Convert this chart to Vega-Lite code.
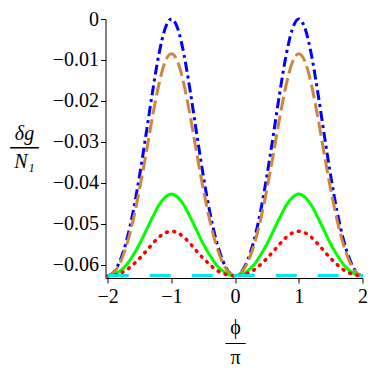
{
  "$schema": "https://vega.github.io/schema/vega-lite/v6.json",
  "width": 257,
  "height": 259,
  "autosize": "none",
  "padding": {"left": 105.5, "top": 19, "right": 11.5, "bottom": 96},
  "background": "white",
  "config": {
    "view": {"stroke": null},
    "axis": {
      "grid": false,
      "domainColor": "black",
      "tickColor": "black",
      "labelColor": "black",
      "titleColor": "black",
      "labelFontSize": 20,
      "titleFontSize": 20,
      "titleFontWeight": "normal",
      "domainWidth": 1,
      "tickWidth": 1
    }
  },
  "datasets": {
    "blue": [
      {"x": -2, "y": -0.0627}, {"x": -1.9, "y": -0.0617}, {"x": -1.8, "y": -0.0587}, {"x": -1.7, "y": -0.0538}, {"x": -1.6, "y": -0.0469}, {"x": -1.5, "y": -0.0382}, {"x": -1.4, "y": -0.0283}, {"x": -1.3, "y": -0.0181}, {"x": -1.2, "y": -0.0089}, {"x": -1.1, "y": -0.0024}, {"x": -1, "y": 0},
      {"x": -0.9, "y": -0.0024}, {"x": -0.8, "y": -0.0089}, {"x": -0.7, "y": -0.0181}, {"x": -0.6, "y": -0.0283}, {"x": -0.5, "y": -0.0382}, {"x": -0.4, "y": -0.0469}, {"x": -0.3, "y": -0.0538}, {"x": -0.2, "y": -0.0587}, {"x": -0.1, "y": -0.0617}, {"x": 0, "y": -0.0627},
      {"x": 0.1, "y": -0.0617}, {"x": 0.2, "y": -0.0587}, {"x": 0.3, "y": -0.0538}, {"x": 0.4, "y": -0.0469}, {"x": 0.5, "y": -0.0382}, {"x": 0.6, "y": -0.0283}, {"x": 0.7, "y": -0.0181}, {"x": 0.8, "y": -0.0089}, {"x": 0.9, "y": -0.0024}, {"x": 1, "y": 0},
      {"x": 1.1, "y": -0.0024}, {"x": 1.2, "y": -0.0089}, {"x": 1.3, "y": -0.0181}, {"x": 1.4, "y": -0.0283}, {"x": 1.5, "y": -0.0382}, {"x": 1.6, "y": -0.0469}, {"x": 1.7, "y": -0.0538}, {"x": 1.8, "y": -0.0587}, {"x": 1.9, "y": -0.0617}, {"x": 2, "y": -0.0627}
    ],
    "brown": [
      {"x": -2, "y": -0.0627}, {"x": -1.9, "y": -0.0618}, {"x": -1.8, "y": -0.0593}, {"x": -1.7, "y": -0.055}, {"x": -1.6, "y": -0.049}, {"x": -1.5, "y": -0.0415}, {"x": -1.4, "y": -0.033}, {"x": -1.3, "y": -0.0241}, {"x": -1.2, "y": -0.0162}, {"x": -1.1, "y": -0.0105}, {"x": -1, "y": -0.0085},
      {"x": -0.9, "y": -0.0105}, {"x": -0.8, "y": -0.0162}, {"x": -0.7, "y": -0.0241}, {"x": -0.6, "y": -0.033}, {"x": -0.5, "y": -0.0415}, {"x": -0.4, "y": -0.049}, {"x": -0.3, "y": -0.055}, {"x": -0.2, "y": -0.0593}, {"x": -0.1, "y": -0.0618}, {"x": 0, "y": -0.0627},
      {"x": 0.1, "y": -0.0618}, {"x": 0.2, "y": -0.0593}, {"x": 0.3, "y": -0.055}, {"x": 0.4, "y": -0.049}, {"x": 0.5, "y": -0.0415}, {"x": 0.6, "y": -0.033}, {"x": 0.7, "y": -0.0241}, {"x": 0.8, "y": -0.0162}, {"x": 0.9, "y": -0.0105}, {"x": 1, "y": -0.0085},
      {"x": 1.1, "y": -0.0105}, {"x": 1.2, "y": -0.0162}, {"x": 1.3, "y": -0.0241}, {"x": 1.4, "y": -0.033}, {"x": 1.5, "y": -0.0415}, {"x": 1.6, "y": -0.049}, {"x": 1.7, "y": -0.055}, {"x": 1.8, "y": -0.0593}, {"x": 1.9, "y": -0.0618}, {"x": 2, "y": -0.0627}
    ],
    "green": [
      {"x": -2, "y": -0.0627}, {"x": -1.9, "y": -0.0624}, {"x": -1.8, "y": -0.0614}, {"x": -1.7, "y": -0.0599}, {"x": -1.6, "y": -0.0576}, {"x": -1.5, "y": -0.0549}, {"x": -1.4, "y": -0.0517}, {"x": -1.3, "y": -0.0485}, {"x": -1.2, "y": -0.0455}, {"x": -1.1, "y": -0.0435}, {"x": -1, "y": -0.0427},
      {"x": -0.9, "y": -0.0435}, {"x": -0.8, "y": -0.0455}, {"x": -0.7, "y": -0.0485}, {"x": -0.6, "y": -0.0517}, {"x": -0.5, "y": -0.0549}, {"x": -0.4, "y": -0.0576}, {"x": -0.3, "y": -0.0599}, {"x": -0.2, "y": -0.0614}, {"x": -0.1, "y": -0.0624}, {"x": 0, "y": -0.0627},
      {"x": 0.1, "y": -0.0624}, {"x": 0.2, "y": -0.0614}, {"x": 0.3, "y": -0.0599}, {"x": 0.4, "y": -0.0576}, {"x": 0.5, "y": -0.0549}, {"x": 0.6, "y": -0.0517}, {"x": 0.7, "y": -0.0485}, {"x": 0.8, "y": -0.0455}, {"x": 0.9, "y": -0.0435}, {"x": 1, "y": -0.0427},
      {"x": 1.1, "y": -0.0435}, {"x": 1.2, "y": -0.0455}, {"x": 1.3, "y": -0.0485}, {"x": 1.4, "y": -0.0517}, {"x": 1.5, "y": -0.0549}, {"x": 1.6, "y": -0.0576}, {"x": 1.7, "y": -0.0599}, {"x": 1.8, "y": -0.0614}, {"x": 1.9, "y": -0.0624}, {"x": 2, "y": -0.0627}
    ],
    "red": [
      {"x": -2, "y": -0.0627}, {"x": -1.9, "y": -0.0625}, {"x": -1.8, "y": -0.062}, {"x": -1.7, "y": -0.0612}, {"x": -1.6, "y": -0.0599}, {"x": -1.5, "y": -0.0584}, {"x": -1.4, "y": -0.0567}, {"x": -1.3, "y": -0.0549}, {"x": -1.2, "y": -0.0533}, {"x": -1.1, "y": -0.0522}, {"x": -1, "y": -0.0518},
      {"x": -0.9, "y": -0.0522}, {"x": -0.8, "y": -0.0533}, {"x": -0.7, "y": -0.0549}, {"x": -0.6, "y": -0.0567}, {"x": -0.5, "y": -0.0584}, {"x": -0.4, "y": -0.0599}, {"x": -0.3, "y": -0.0612}, {"x": -0.2, "y": -0.062}, {"x": -0.1, "y": -0.0625}, {"x": 0, "y": -0.0627},
      {"x": 0.1, "y": -0.0625}, {"x": 0.2, "y": -0.062}, {"x": 0.3, "y": -0.0612}, {"x": 0.4, "y": -0.0599}, {"x": 0.5, "y": -0.0584}, {"x": 0.6, "y": -0.0567}, {"x": 0.7, "y": -0.0549}, {"x": 0.8, "y": -0.0533}, {"x": 0.9, "y": -0.0522}, {"x": 1, "y": -0.0518},
      {"x": 1.1, "y": -0.0522}, {"x": 1.2, "y": -0.0533}, {"x": 1.3, "y": -0.0549}, {"x": 1.4, "y": -0.0567}, {"x": 1.5, "y": -0.0584}, {"x": 1.6, "y": -0.0599}, {"x": 1.7, "y": -0.0612}, {"x": 1.8, "y": -0.062}, {"x": 1.9, "y": -0.0625}, {"x": 2, "y": -0.0627}
    ],
    "cyan": [
      {"x": -2, "y": -0.0626}, {"x": -1.5, "y": -0.0626}, {"x": -1, "y": -0.0626}, {"x": -0.5, "y": -0.0626}, {"x": 0, "y": -0.0626}, {"x": 0.5, "y": -0.0626}, {"x": 1, "y": -0.0626}, {"x": 1.5, "y": -0.0626}, {"x": 2, "y": -0.0626}
    ]
  },
  "layer": [
    {
      "data": {"name": "blue"},
      "mark": {"type": "line", "color": "#0000FF", "strokeWidth": 3, "strokeDash": [10, 4, 3, 4], "interpolate": "monotone"},
      "encoding": {
        "x": {
          "field": "x", "type": "quantitative",
          "scale": {"domain": [-2.035, 2], "nice": false, "zero": false},
          "axis": {
            "values": [-2, -1.5, -1, -0.5, 0, 0.5, 1, 1.5, 2],
            "format": "~f",
            "labelExpr": "datum.value % 1 == 0 ? datum.label : ''",
            "labelFont": "Liberation Serif",
            "titleFont": "Liberation Serif",
            "tickSize": {"condition": {"test": "datum.value % 1 != 0", "value": 3}, "value": 5},
            "labelPadding": 3,
            "labelOverlap": false,
            "labelFlush": false,
            "title": ["ϕ", "—", "π"],
            "titleX": 129.5,
            "titleY": 49,
            "titleBaseline": "middle",
            "titleLineHeight": 15
          }
        },
        "y": {
          "field": "y", "type": "quantitative",
          "scale": {"domain": [-0.0632, 0], "nice": false, "zero": false},
          "axis": {
            "values": [-0.06, -0.055, -0.05, -0.045, -0.04, -0.035, -0.03, -0.025, -0.02, -0.015, -0.01, -0.005, 0],
            "format": ".2~f",
            "labelExpr": "abs(round(datum.value * 1000)) % 10 == 0 ? datum.label : ''",
            "labelFont": "Liberation Serif",
            "titleFont": "Liberation Serif",
            "tickSize": {"condition": {"test": "abs(round(datum.value * 1000)) % 10 != 0", "value": 3}, "value": 5},
            "labelPadding": 2,
            "labelOverlap": false,
            "labelFlush": false,
            "title": ["δg", "──", "N₁"],
            "titleAngle": 0,
            "titleAlign": "center",
            "titleBaseline": "middle",
            "titleX": -81.5,
            "titleY": 114,
            "titleFontStyle": "italic",
            "titleLineHeight": 14
          }
        }
      }
    },
    {
      "data": {"name": "brown"},
      "mark": {"type": "line", "color": "#CD853F", "strokeWidth": 3, "strokeDash": [14, 5], "interpolate": "monotone"},
      "encoding": {"x": {"field": "x", "type": "quantitative"}, "y": {"field": "y", "type": "quantitative"}}
    },
    {
      "data": {"name": "green"},
      "mark": {"type": "line", "color": "#00FF00", "strokeWidth": 3, "interpolate": "monotone"},
      "encoding": {"x": {"field": "x", "type": "quantitative"}, "y": {"field": "y", "type": "quantitative"}}
    },
    {
      "data": {"name": "red"},
      "mark": {"type": "line", "color": "#FF0000", "strokeWidth": 3.5, "strokeDash": [1, 6.5], "strokeCap": "round", "interpolate": "monotone"},
      "encoding": {"x": {"field": "x", "type": "quantitative"}, "y": {"field": "y", "type": "quantitative"}}
    },
    {
      "data": {"name": "cyan"},
      "mark": {"type": "line", "color": "#00E8E8", "strokeWidth": 3, "strokeDash": [21, 21]},
      "encoding": {"x": {"field": "x", "type": "quantitative"}, "y": {"field": "y", "type": "quantitative"}}
    }
  ]
}
